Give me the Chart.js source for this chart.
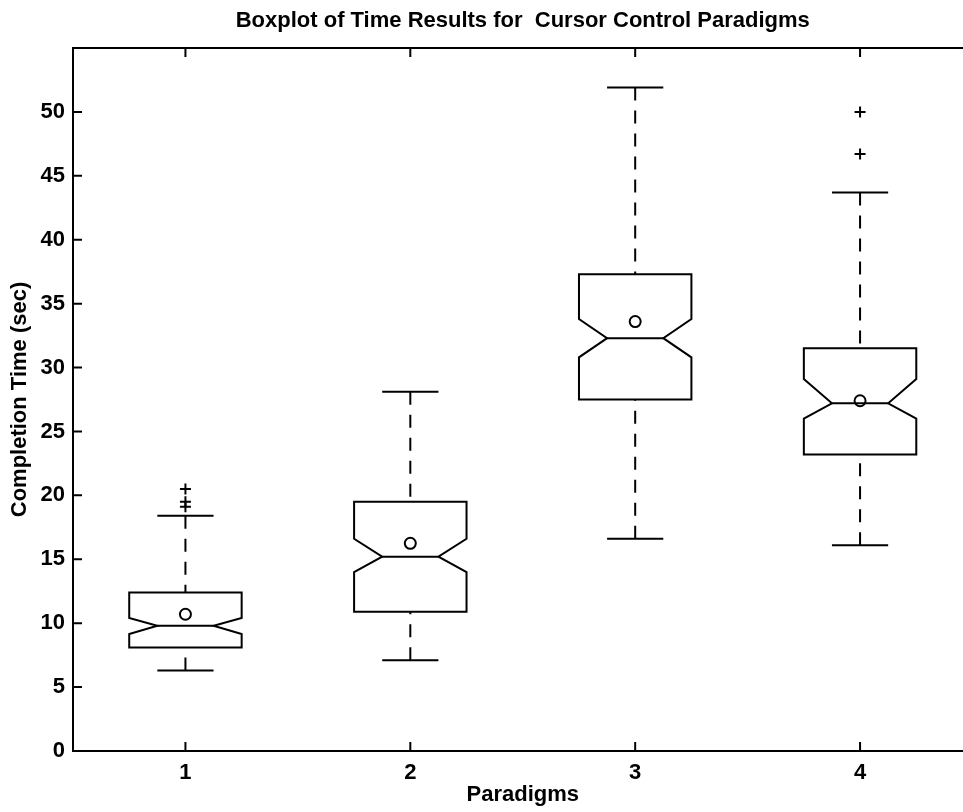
<!DOCTYPE html>
<html lang="en">
<head>
<meta charset="UTF-8">
<title>Boxplot of Time Results for Cursor Control Paradigms</title>
<script src="https://cdn.jsdelivr.net/npm/chart.js"></script>
<style>
  html, body { margin: 0; padding: 0; background: #fff; overflow: hidden; }
  #boxChart { display: block; }
</style>
</head>
<body>
<canvas id="boxChart" width="980" height="812"></canvas>
<script>
// completion times (sec) per paradigm
const paradigms    = ['1', '2', '3', '4'];
const lowerWhisker = [6.3, 7.1, 16.6, 16.1];
const q1           = [8.1, 10.9, 27.5, 23.2];
const notchLow     = [9.15, 14.0, 30.8, 26.0];
const median       = [9.8, 15.2, 32.3, 27.2];
const notchHigh    = [10.4, 16.6, 33.8, 29.1];
const q3           = [12.4, 19.5, 37.3, 31.5];
const upperWhisker = [18.4, 28.1, 51.9, 43.7];
const means        = [10.7, 16.25, 33.6, 27.4];
const outliers     = [[20.5, 19.5, 19.1], [], [], [50.0, 46.7]];
const yTicks       = [0, 5, 10, 15, 20, 25, 30, 35, 40, 45, 50];

const FONT = "'Liberation Sans', Arial, Helvetica, sans-serif";
Chart.defaults.font.family = FONT;
Chart.defaults.color = '#000';

// notched boxes, dashed whiskers and caps
const notchedBoxes = {
  id: 'notchedBoxes',
  beforeDatasetsDraw(chart) {
    const { ctx, scales: { x, y } } = chart;
    const unit = x.getPixelForValue(1) - x.getPixelForValue(0);
    const w = unit * 0.25;
    const nw = unit * 0.125;
    ctx.save();
    ctx.strokeStyle = '#000';
    ctx.lineWidth = 2;
    ctx.lineJoin = 'miter';
    paradigms.forEach((p, i) => {
      const cx = x.getPixelForValue(i);
      const yq1 = y.getPixelForValue(q1[i]);
      const yq3 = y.getPixelForValue(q3[i]);
      const ynl = y.getPixelForValue(notchLow[i]);
      const ynh = y.getPixelForValue(notchHigh[i]);
      const ymd = y.getPixelForValue(median[i]);
      const ylw = y.getPixelForValue(lowerWhisker[i]);
      const yuw = y.getPixelForValue(upperWhisker[i]);

      // box outline
      ctx.setLineDash([]);
      ctx.beginPath();
      ctx.moveTo(cx - w, yq1);
      ctx.lineTo(cx - w, ynl);
      ctx.lineTo(cx - nw, ymd);
      ctx.lineTo(cx - w, ynh);
      ctx.lineTo(cx - w, yq3);
      ctx.lineTo(cx + w, yq3);
      ctx.lineTo(cx + w, ynh);
      ctx.lineTo(cx + nw, ymd);
      ctx.lineTo(cx + w, ynl);
      ctx.lineTo(cx + w, yq1);
      ctx.closePath();
      ctx.stroke();

      // median
      ctx.beginPath();
      ctx.moveTo(cx - nw, ymd);
      ctx.lineTo(cx + nw, ymd);
      ctx.stroke();

      // caps
      ctx.beginPath();
      ctx.moveTo(cx - nw, yuw);
      ctx.lineTo(cx + nw, yuw);
      ctx.moveTo(cx - nw, ylw);
      ctx.lineTo(cx + nw, ylw);
      ctx.stroke();

      // whiskers
      ctx.setLineDash([13, 10]);
      ctx.beginPath();
      ctx.moveTo(cx, yuw);
      ctx.lineTo(cx, yq3);
      ctx.stroke();
      ctx.beginPath();
      ctx.moveTo(cx, ylw);
      ctx.lineTo(cx, yq1);
      ctx.stroke();
    });
    ctx.restore();
  },
  afterDraw(chart) {
    // axes box with inward ticks
    const { ctx, chartArea: a, scales: { x, y } } = chart;
    const tl = 9;
    ctx.save();
    ctx.strokeStyle = '#000';
    ctx.lineWidth = 2;
    ctx.setLineDash([]);
    ctx.strokeRect(a.left, a.top, a.right - a.left, a.bottom - a.top);
    ctx.beginPath();
    x.ticks.forEach((t, i) => {
      const px = x.getPixelForTick(i);
      ctx.moveTo(px, a.bottom); ctx.lineTo(px, a.bottom - tl);
      ctx.moveTo(px, a.top); ctx.lineTo(px, a.top + tl);
    });
    y.ticks.forEach((t, i) => {
      const py = y.getPixelForTick(i);
      ctx.moveTo(a.left, py); ctx.lineTo(a.left + tl, py);
      ctx.moveTo(a.right, py); ctx.lineTo(a.right - tl, py);
    });
    ctx.stroke();
    ctx.restore();
  }
};

const outlierPoints = [];
outliers.forEach((list, i) => list.forEach(v => outlierPoints.push({ x: paradigms[i], y: v })));

const labelFont = { family: FONT, size: 22, weight: 'bold' };

new Chart(document.getElementById('boxChart').getContext('2d'), {
  type: 'line',
  data: {
    labels: paradigms,
    datasets: [
      {
        label: 'Outliers',
        data: outlierPoints,
        showLine: false,
        pointStyle: 'cross',
        pointRadius: 5.5,
        pointBorderWidth: 2,
        borderColor: '#000',
        backgroundColor: '#000'
      },
      {
        label: 'Mean',
        data: means.map((m, i) => ({ x: paradigms[i], y: m })),
        showLine: false,
        pointStyle: 'circle',
        pointRadius: 5.5,
        pointBorderWidth: 2,
        borderColor: '#000',
        backgroundColor: 'rgba(0,0,0,0)'
      }
    ]
  },
  options: {
    responsive: false,
    animation: false,
    layout: { padding: { left: 0, right: 7, top: 0, bottom: 0 } },
    plugins: {
      legend: { display: false },
      tooltip: { enabled: false },
      title: {
        display: true,
        fullSize: false,
        text: 'Boxplot of Time Results for  Cursor Control Paradigms',
        font: labelFont,
        padding: { top: 8, bottom: 13.6 }
      }
    },
    scales: {
      x: {
        type: 'category',
        offset: true,
        grid: { display: false, drawTicks: false },
        border: { display: false },
        ticks: { font: labelFont, padding: 9 },
        title: { display: true, text: 'Paradigms', font: labelFont, padding: { top: 0, bottom: 4 } },
        afterFit(scale) { scale.height = 61; }
      },
      y: {
        min: 0,
        max: 55,
        grid: { display: false, drawTicks: false },
        border: { display: false },
        ticks: { font: labelFont, padding: 8 },
        afterBuildTicks(scale) { scale.ticks = yTicks.map(v => ({ value: v })); },
        title: { display: true, text: 'Completion Time (sec)', font: labelFont, padding: { top: 7, bottom: 0 } },
        afterFit(scale) { scale.width = 73; }
      }
    }
  },
  plugins: [notchedBoxes]
});
</script>
</body>
</html>
